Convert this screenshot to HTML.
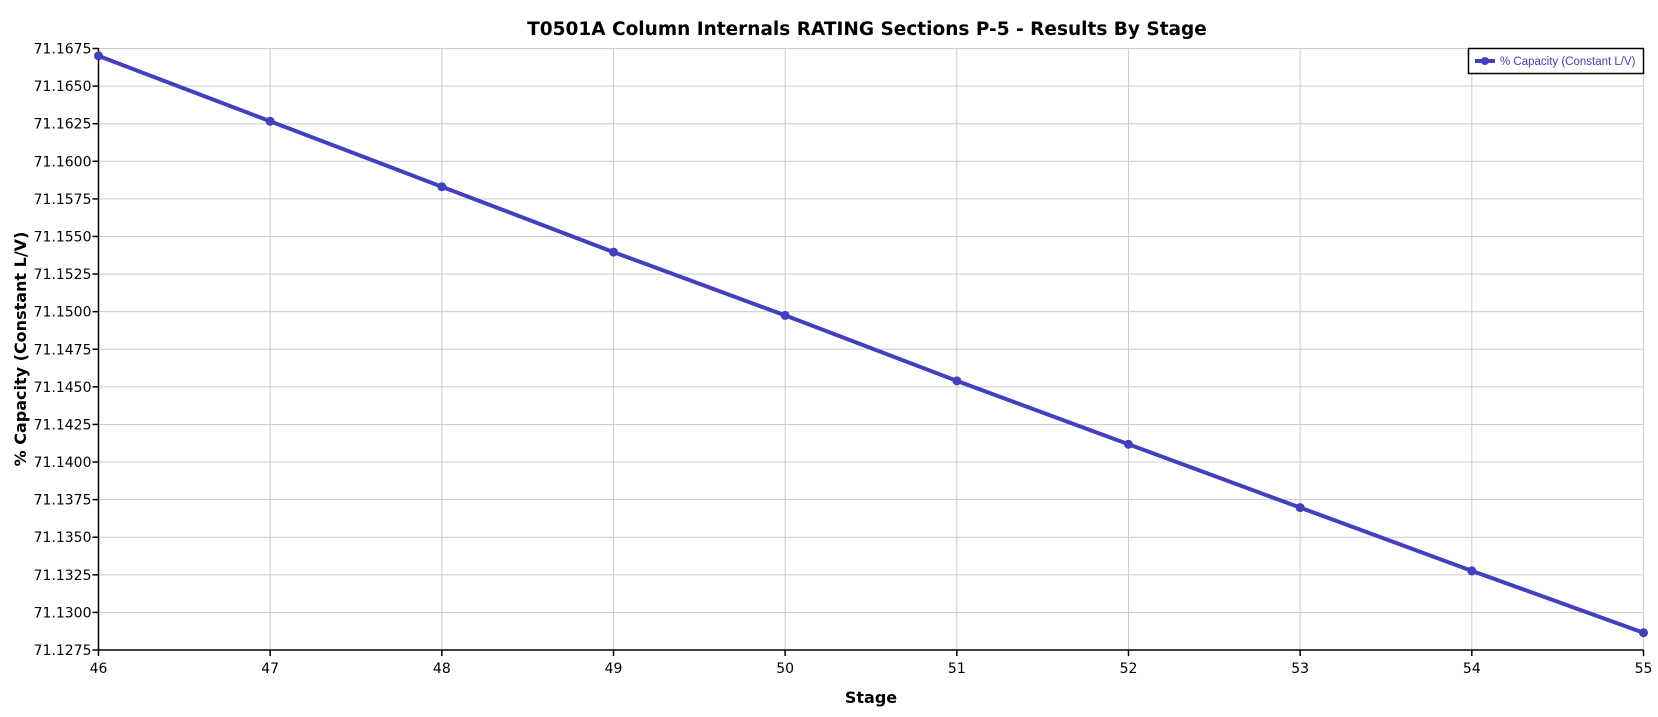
<!DOCTYPE html>
<html><head><style>
html,body{margin:0;padding:0;background:#fff;}
svg{display:block;font-family:"DejaVu Sans","Liberation Sans",sans-serif;}
</style></head><body>
<svg width="1658" height="717" viewBox="0 0 1658 717" xmlns="http://www.w3.org/2000/svg">
<rect width="1658" height="717" fill="#fff"/>
<text x="867" y="35" text-anchor="middle" font-size="18.5" font-weight="bold" fill="#000">T0501A Column Internals RATING Sections P-5 - Results By Stage</text>
<g id="grid" stroke="#cccccc" stroke-width="1"></g>
<g id="ticks"></g>
<line x1="98.5" y1="48.5" x2="98.5" y2="650" stroke="#000" stroke-width="1.5"/>
<line x1="98.5" y1="650" x2="1643.5" y2="650" stroke="#000" stroke-width="1.5"/>
<polyline id="series" fill="none" stroke="#4040c0" stroke-width="4" stroke-linejoin="round"/>
<g id="pts" fill="#4040c0"></g>
<text transform="translate(26,349) rotate(-90)" text-anchor="middle" font-size="16" font-weight="bold" fill="#000">% Capacity (Constant L/V)</text>
<text x="871" y="703" text-anchor="middle" font-size="16" font-weight="bold" fill="#000">Stage</text>
<rect x="1468.5" y="48.5" width="175" height="25" fill="#fff" stroke="#000" stroke-width="1.5"/>
<line x1="1475" y1="61" x2="1495" y2="61" stroke="#4040c0" stroke-width="4"/>
<circle cx="1485" cy="61" r="4" fill="#4040c0"/>
<text x="1500" y="65" font-size="11.5" font-family="Liberation Sans, sans-serif" fill="#4040c0">% Capacity (Constant L/V)</text>
</svg>
<script>
var ns="http://www.w3.org/2000/svg";
var L=98.5,R=1643.5,T=48.5,B=650;
function X(s){return L+(s-46)*(R-L)/9;}
function Y(v){return B-(v-71.1275)/0.04*(B-T);}
var g=document.getElementById('grid'),tk=document.getElementById('ticks');
function el(p,n,a,t){var e=document.createElementNS(ns,n);for(var k in a)e.setAttribute(k,a[k]);if(t)e.textContent=t;p.appendChild(e);return e;}
for(var i=0;i<=16;i++){var v=71.1275+i*0.0025,y=Y(v);
 if(i>0)el(g,'line',{x1:L,y1:y,x2:R,y2:y});
 el(tk,'line',{x1:L-6,y1:y,x2:L,y2:y,stroke:'#000','stroke-width':1.5});
 el(tk,'text',{x:L-7,y:y+5,'text-anchor':'end','font-size':14,fill:'#000'},v.toFixed(4));}
for(var s=46;s<=55;s++){var x=X(s);
 if(s>46)el(g,'line',{x1:x,y1:T,x2:x,y2:B});
 el(tk,'line',{x1:x,y1:B,x2:x,y2:B+6,stroke:'#000','stroke-width':1.5});
 el(tk,'text',{x:x,y:673,'text-anchor':'middle','font-size':14,fill:'#000'},String(s));}
var d=[71.16701,71.16266,71.15831,71.15396,71.14975,71.14540,71.14118,71.13697,71.13276,71.12865];
var pts=d.map(function(v,i){return X(46+i)+','+Y(v);}).join(' ');
document.getElementById('series').setAttribute('points',pts);
var pg=document.getElementById('pts');
d.forEach(function(v,i){el(pg,'circle',{cx:X(46+i),cy:Y(v),r:4.5});});
</script>
</body></html>
